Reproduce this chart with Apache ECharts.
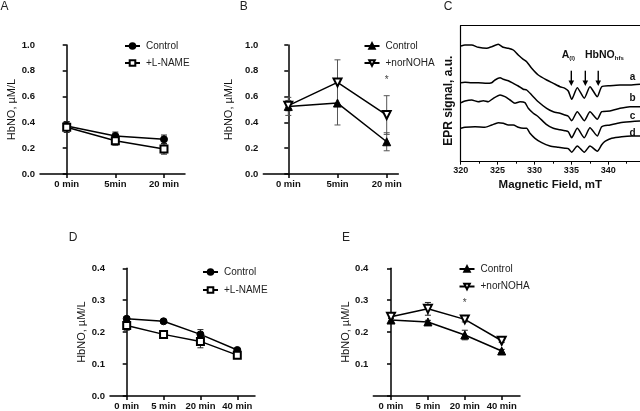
<!DOCTYPE html>
<html>
<head>
<meta charset="utf-8">
<script src="https://cdn.jsdelivr.net/npm/echarts@6/dist/echarts.min.js"></script>
<style>
html,body{margin:0;padding:0;background:#fff;}
#chart{width:640px;height:411px;}
</style>
</head>
<body>
<div id="chart"></div>
<script>
// ---------- DATA ----------
const catsABC = ['0 min', '5min', '20 min'];
const catsDE = ['0 min', '5 min', '20 min', '40 min'];

const aControl = [0.372, 0.295, 0.269];
const aControlErr = [0.035, 0.030, 0.033];
const aLname = [0.362, 0.258, 0.194];
const aLnameErr = [0.040, 0.035, 0.040];

const bControl = [0.524, 0.550, 0.250];
const bControlErr = [0.070, 0.170, 0.070];
const bNor = [0.530, 0.710, 0.457];
const bNorErr = [0.040, 0.175, 0.150];

const dControl = [0.242, 0.234, 0.193, 0.144];
const dControlErr = [0.007, 0.005, 0.015, 0.005];
const dLname = [0.221, 0.193, 0.171, 0.128];
const dLnameErr = [0.015, 0.007, 0.020, 0.007];

const eControl = [0.238, 0.232, 0.191, 0.141];
const eControlErr = [0.006, 0.005, 0.015, 0.005];
const eNor = [0.248, 0.273, 0.240, 0.173];
const eNorErr = [0.005, 0.020, 0.008, 0.005];

// EPR spectra: [magnetic field mT, signal a.u.]
const eprA = [[320.04,115.7],[320.58,116.7],[321.49,116.7],[322.38,114.4],[323.52,113.4],[324.20,115],[325.09,117.4],[325.77,114.4],[326.45,113.4],[327.13,111.7],[327.80,106.7],[328.48,102.4],[328.94,100],[329.62,93.4],[330.51,86.7],[331.65,81.7],[332.55,78.4],[333.46,75],[334.13,73.4],[334.58,70.7],[335.04,62.4],[335.80,74],[336.75,63.5],[337.52,75],[338.51,65],[339.11,75],[340.23,76],[341.59,76.7],[342.94,76.7],[344.30,77.4]];
const eprB = [[320.04,79],[320.58,79.4],[321.49,79],[322.38,79],[323.52,78.4],[324.20,79],[324.65,81.7],[325.33,84],[325.77,82.4],[326.45,81],[327.13,78.4],[327.80,75.7],[328.48,72.4],[328.94,71.7],[329.62,66.7],[330.51,60],[331.65,53.4],[332.55,50],[333.46,48.4],[334.13,46.7],[334.58,45.5],[335.04,41],[335.80,50],[336.75,41],[337.52,50],[338.51,42.5],[339.11,50],[340.23,50.7],[341.59,53.4],[342.94,55],[344.30,55]];
const eprC = [[320.04,59],[320.58,60.7],[321.49,61.7],[322.38,60],[323.06,61],[323.74,60],[324.42,63.4],[325.33,66.7],[326.00,65],[326.68,61.7],[327.36,58.4],[328.04,60],[328.71,59],[329.16,53.4],[329.84,48.4],[330.51,45],[331.65,37],[332.55,33.4],[333.46,32],[334.13,31],[334.58,30],[335.04,24],[335.80,33.4],[336.75,24],[337.52,34],[338.51,25.7],[339.11,35],[340.23,36.7],[341.59,39],[342.94,40],[344.30,40.7]];
const eprD = [[320.04,33.4],[320.58,34.4],[321.94,35],[323.29,34.4],[324.20,36.7],[325.09,39],[325.77,38.4],[326.45,36.7],[327.13,36.7],[327.80,34.4],[328.48,33.4],[328.94,33.4],[329.39,28.4],[330.07,23.4],[330.98,19],[332.10,15.7],[333.23,14.4],[334.13,13.4],[334.58,13],[335.04,9.5],[335.80,15.7],[336.75,9.5],[337.52,15.7],[338.51,10.5],[339.11,17],[339.60,20.5],[340.46,23.4],[341.82,25],[343.17,25.7],[344.30,25.7]];
const eprLabels = ['a', 'b', 'c', 'd'];
const eprTicks = [320, 325, 330, 335, 340];

// ---------- STYLE / LAYOUT ----------
const FF = "'Liberation Sans', Arial, sans-serif";
const BLACK = '#000';

function pairs(vals) { return vals.map((v, i) => [i, v]); }
function errData(vals, errs) { return vals.map((v, i) => [i, v, errs[i]]); }

function renderErr(color) {
  return function (params, api) {
    const x = api.value(0), y = api.value(1), e = api.value(2);
    const t = api.coord([x, y + e]);
    const b = api.coord([x, y - e]);
    const hw = 3;
    const st = { stroke: color, lineWidth: 1 };
    return {
      type: 'group',
      children: [
        { type: 'line', shape: { x1: t[0], y1: t[1], x2: b[0], y2: b[1] }, style: st },
        { type: 'line', shape: { x1: t[0] - hw, y1: t[1], x2: t[0] + hw, y2: t[1] }, style: st },
        { type: 'line', shape: { x1: b[0] - hw, y1: b[1], x2: b[0] + hw, y2: b[1] }, style: st }
      ]
    };
  };
}

function catXAxis(gridIndex, cats, min, max) {
  const idx = cats.map((c, i) => i);
  return {
    type: 'value', gridIndex, min, max,
    splitLine: { show: false },
    axisLine: { show: true, onZero: false, lineStyle: { color: BLACK, width: 1.5 } },
    axisTick: { show: true, customValues: idx, length: 4, lineStyle: { color: BLACK, width: 1.5 } },
    axisLabel: {
      customValues: idx, margin: 5, fontSize: 9.5, fontWeight: 'bold', color: '#111', fontFamily: FF,
      formatter: v => (Number.isInteger(v) && cats[v] !== undefined) ? cats[v] : ''
    }
  };
}

function valYAxis(gridIndex, max, interval, nameGap, hideZero) {
  return {
    type: 'value', gridIndex, min: 0, max, interval,
    name: 'HbNO, µM/L', nameLocation: 'middle', nameGap,
    nameTextStyle: { fontSize: 11, color: '#111', fontFamily: FF },
    splitLine: { show: false },
    axisLine: { show: true, lineStyle: { color: BLACK, width: 1.5 } },
    axisTick: { show: true, length: 4, lineStyle: { color: BLACK, width: 1.5 } },
    axisLabel: {
      margin: 5, fontSize: 9.5, fontWeight: 'bold', color: '#111', fontFamily: FF,
      formatter: v => (hideZero && v === 0) ? '' : v.toFixed(1)
    }
  };
}

function lineSeries(name, xi, yi, vals, symbol, size, rotate) {
  return {
    type: 'line', name, xAxisIndex: xi, yAxisIndex: yi,
    data: pairs(vals), symbol, symbolSize: size, symbolRotate: rotate || 0,
    showSymbol: true, z: 5,
    lineStyle: { color: BLACK, width: 1.5 },
    itemStyle: { color: BLACK, borderColor: BLACK, borderWidth: 1 },
    emphasis: { disabled: true }
  };
}

function errSeries(xi, yi, vals, errs, color) {
  return {
    type: 'custom', name: 'err', xAxisIndex: xi, yAxisIndex: yi,
    data: errData(vals, errs), renderItem: renderErr(color), z: 2, silent: true
  };
}

function eprSeries(name, data) {
  return {
    type: 'line', name, xAxisIndex: 2, yAxisIndex: 2, data,
    showSymbol: false, smooth: 0.2,
    lineStyle: { color: BLACK, width: 1.5 }, itemStyle: { color: BLACK },
    emphasis: { disabled: true }, silent: true
  };
}

function legend(names, left, top, gap) {
  return {
    data: names, orient: 'vertical', left, top, padding: 0,
    itemWidth: 15, itemHeight: 7, itemGap: gap, selectedMode: false,
    formatter: n => n.split('|')[1],
    textStyle: { fontSize: 10, color: '#222', fontFamily: FF, padding: [0, 0, 0, 1] }
  };
}

const option = {
  animation: false,
  backgroundColor: '#fff',
  grid: [
    { left: 40, top: 45, width: 145, height: 129 },
    { left: 263.3, top: 45, width: 135, height: 129 },
    { left: 460.7, top: 25.7, width: 179.3, height: 136 },
    { left: 110, top: 268.3, width: 145, height: 129 },
    { left: 373.3, top: 268.3, width: 146.7, height: 128.5 }
  ],
  xAxis: [
    catXAxis(0, catsABC, -0.549, 2.432),
    catXAxis(1, catsABC, -0.508, 2.236),
    {
      type: 'value', gridIndex: 2, min: 320, max: 344.3, interval: 5,
      name: 'Magnetic Field, mT', nameLocation: 'middle', nameGap: 17,
      nameTextStyle: { fontSize: 11.5, fontWeight: 'bold', color: '#111', fontFamily: FF },
      splitLine: { show: false },
      axisLine: { show: true, onZero: false, lineStyle: { color: BLACK, width: 1.2 } },
      axisTick: { show: true, length: 3, customValues: eprTicks, lineStyle: { color: BLACK, width: 1 } },
      minorTick: { show: true, splitNumber: 2, length: 2, lineStyle: { color: BLACK, width: 1 } },
      axisLabel: { customValues: eprTicks, margin: 4, fontSize: 9, fontWeight: 'bold', color: '#111', fontFamily: FF }
    },
    {
      type: 'value', gridIndex: 2, min: 320, max: 344.3, position: 'top',
      splitLine: { show: false },
      axisLine: { show: true, onZero: false, lineStyle: { color: BLACK, width: 1.2 } },
      axisTick: { show: false }, axisLabel: { show: false }
    },
    catXAxis(3, catsDE, -0.453, 3.48),
    catXAxis(4, catsDE, -0.48, 3.496)
  ],
  yAxis: [
    valYAxis(0, 1.0, 0.2, 20),
    valYAxis(1, 1.0, 0.2, 29),
    {
      type: 'value', gridIndex: 2, min: 0, max: 136,
      name: 'EPR signal, a.u.', nameLocation: 'middle', nameGap: 6,
      nameTextStyle: { fontSize: 12, fontWeight: 'bold', color: '#111', fontFamily: FF, padding: [0, 14, 0, 0] },
      splitLine: { show: false },
      axisLine: { show: true, lineStyle: { color: BLACK, width: 1.2 } },
      axisTick: { show: false }, axisLabel: { show: false }
    },
    valYAxis(3, 0.4, 0.1, 22),
    valYAxis(4, 0.4, 0.1, 20, true)
  ],
  legend: [
    legend(['A|Control', 'A|+L-NAME'], 124, 41, 7),
    legend(['B|Control', 'B|+norNOHA'], 363.5, 41, 7),
    legend(['D|Control', 'D|+L-NAME'], 202, 267, 8),
    legend(['E|Control', 'E|+norNOHA'], 458.5, 264, 7.5)
  ],
  series: [
    errSeries(0, 0, aControl, aControlErr, '#222'),
    errSeries(0, 0, aLname, aLnameErr, '#222'),
    lineSeries('A|Control', 0, 0, aControl, 'circle', 7),
    lineSeries('A|+L-NAME', 0, 0, aLname, 'emptyRect', 7),

    errSeries(1, 1, bControl, bControlErr, '#555'),
    errSeries(1, 1, bNor, bNorErr, '#555'),
    lineSeries('B|Control', 1, 1, bControl, 'triangle', 8),
    lineSeries('B|+norNOHA', 1, 1, bNor, 'emptyTriangle', 8, 180),

    eprSeries('a', eprA),
    eprSeries('b', eprB),
    eprSeries('c', eprC),
    eprSeries('d', eprD),

    errSeries(4, 3, dControl, dControlErr, '#222'),
    errSeries(4, 3, dLname, dLnameErr, '#222'),
    lineSeries('D|Control', 4, 3, dControl, 'circle', 7),
    lineSeries('D|+L-NAME', 4, 3, dLname, 'emptyRect', 7),

    errSeries(5, 4, eControl, eControlErr, '#222'),
    errSeries(5, 4, eNor, eNorErr, '#222'),
    lineSeries('E|Control', 5, 4, eControl, 'triangle', 8),
    lineSeries('E|+norNOHA', 5, 4, eNor, 'emptyTriangle', 8, 180)
  ]
};

const chart = echarts.init(document.getElementById('chart'), null, { renderer: 'canvas' });
chart.setOption(option);

// ---------- ANNOTATIONS ----------
const g = [];
function txt(x, y, text, extra) {
  g.push({ type: 'text', x, y, silent: true,
    style: Object.assign({ text, fontSize: 12, fontFamily: FF, fill: '#222', align: 'center', verticalAlign: 'middle' }, extra || {}) });
}
// panel letters
txt(4.5, 7, 'A'); txt(243.7, 7, 'B'); txt(448, 7, 'C'); txt(73, 238, 'D'); txt(346, 238, 'E');

const toPx = (xi, yi, pt) => chart.convertToPixel({ xAxisIndex: xi, yAxisIndex: yi }, pt);
// significance marks
let p = toPx(1, 1, [2, 0.724]); txt(p[0], p[1], '*', { fontSize: 10, fill: '#444' });
p = toPx(5, 4, [2, 0.290]); txt(p[0], p[1], '*', { fontSize: 10, fill: '#444' });

// EPR curve labels
const labelS = [84.7, 63.4, 45.7, 28.9];
eprLabels.forEach((l, i) => {
  const q = toPx(2, 2, [343.28, labelS[i]]);
  txt(q[0], q[1], l, { fontSize: 10, fontWeight: 'bold', fill: '#111' });
});
// arrows
[334.99, 336.89, 338.64].forEach(f => {
  const t = toPx(2, 2, [f, 91]);
  const b = toPx(2, 2, [f, 75.7]);
  g.push({ type: 'line', silent: true, shape: { x1: t[0], y1: t[1], x2: b[0], y2: b[1] - 4 }, style: { stroke: '#000', lineWidth: 1.4 } });
  g.push({ type: 'polygon', silent: true, shape: { points: [[b[0] - 2.8, b[1] - 5.5], [b[0] + 2.8, b[1] - 5.5], [b[0], b[1]]] }, style: { fill: '#000' } });
});
// hyperfine annotations
p = toPx(2, 2, [333.7, 106.7]);
g.push({ type: 'text', x: p[0], y: p[1], silent: true, style: {
  text: '{m|A}{s|(I)}', verticalAlign: 'middle', align: 'left',
  rich: { m: { fontSize: 10.5, fontWeight: 'bold', fontFamily: FF, fill: '#111' },
          s: { fontSize: 6, fontWeight: 'bold', fontFamily: FF, fill: '#111', padding: [6, 0, 0, 0] } } } });
p = toPx(2, 2, [336.85, 106.7]);
g.push({ type: 'text', x: p[0], y: p[1], silent: true, style: {
  text: '{m|HbNO}{s|hfs}', verticalAlign: 'middle', align: 'left',
  rich: { m: { fontSize: 10.5, fontWeight: 'bold', fontFamily: FF, fill: '#111' },
          s: { fontSize: 6, fontWeight: 'bold', fontFamily: FF, fill: '#111', padding: [6, 0, 0, 0] } } } });

chart.setOption({ graphic: g });
</script>
</body>
</html>
